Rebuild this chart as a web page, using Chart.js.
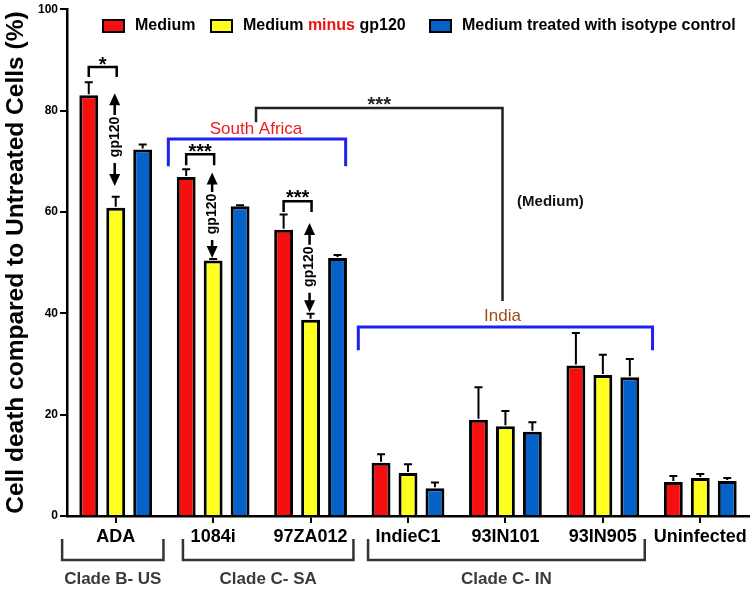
<!DOCTYPE html>
<html>
<head>
<meta charset="utf-8">
<script src="https://cdn.jsdelivr.net/npm/chart.js@4/dist/chart.umd.min.js"></script>
<style>
  html, body { margin: 0; padding: 0; background: #fff; }
  #wrap { width: 753px; height: 589px; position: relative; }
</style>
</head>
<body>
<div id="wrap"><canvas id="bar-chart"></canvas></div>
<script>
( function() {

  // --- data

  var categories = [ 'ADA', '1084i', '97ZA012', 'IndieC1', '93IN101', '93IN905', 'Uninfected' ];

  var medium        = [ 83.0, 66.9, 56.5, 10.5, 19.0, 29.7, 6.7 ];
  var mediumErr     = [ 2.6, 1.5, 3.0, 1.7, 6.4, 6.4, 1.2 ];

  var minusGp120    = [ 60.8, 50.4, 38.7, 8.5, 17.7, 27.8, 7.5 ];
  var minusGp120Err = [ 2.2, 0.3, 1.2, 1.7, 3.0, 4.0, 0.8 ];

  var isotype       = [ 72.3, 61.1, 50.9, 5.5, 16.6, 27.4, 6.9 ];
  var isotypeErr    = [ 1.0, 0.2, 0.6, 1.1, 1.9, 3.6, 0.6 ];

  var yTicks = [ 0, 20, 40, 60, 80, 100 ];

  var FONT = "'Liberation Sans', Arial, Helvetica, sans-serif";
  var RED = '#f5100f', YELLOW = '#ffff1f', BLUE = '#0562c8';

  // significance brackets (category index, y of bar, y of leg ends, stars)
  var sigBrackets = [
    { cat: 0, top: 88.6, leg: 86.6, stars: '*',   starY: 90.0 },
    { cat: 1, top: 71.4, leg: 69.2, stars: '***', starY: 72.8 },
    { cat: 2, top: 62.1, leg: 60.0, stars: '***', starY: 63.7 }
  ];

  // gp120 double arrows over the yellow bars
  var gpArrows = [
    { cat: 0, up: 83.4, down: 65.1, mid: 74.8 },
    { cat: 1, up: 67.8, down: 50.9, mid: 59.6 },
    { cat: 2, up: 57.8, down: 40.2, mid: 49.2 }
  ];

  var clades = [
    { label: 'Clade B- US', from: 0, fromOff: -0.55, to: 0, toOff: 0.49 },
    { label: 'Clade C- SA', from: 1, fromOff: -0.31, to: 2, toOff: 0.44 },
    { label: 'Clade C- IN', from: 3, fromOff: -0.41, to: 5, toOff: 0.43 }
  ];

  var errorBars = {
    id: 'errorBars',
    afterDatasetsDraw: function( chart ) {
      var ctx = chart.ctx;
      var ys = chart.scales.y;
      ctx.save();
      ctx.strokeStyle = '#000';
      ctx.lineWidth = 2;
      chart.data.datasets.forEach( function( ds, i ) {
        chart.getDatasetMeta( i ).data.forEach( function( bar, j ) {
          var top = ys.getPixelForValue( ds.data[ j ] );
          var cap = ys.getPixelForValue( ds.data[ j ] + ds.errors[ j ] );
          ctx.beginPath();
          ctx.moveTo( bar.x, top - 1 );
          ctx.lineTo( bar.x, cap );
          ctx.moveTo( bar.x - 4, cap );
          ctx.lineTo( bar.x + 4, cap );
          ctx.stroke();
        } );
      } );
      ctx.restore();
    }
  };

  var annotations = {
    id: 'annotations',
    afterDraw: function( chart ) {

      var ctx = chart.ctx;
      var xs = chart.scales.x, ys = chart.scales.y;
      var step = xs.width / categories.length;
      var area = chart.chartArea;

      var cx = function( i, f ) { return xs.getPixelForValue( i ) + ( f || 0 ) * step; };
      var vy = function( v ) { return ys.getPixelForValue( v ); };
      var barX = function( ds, i ) { return chart.getDatasetMeta( ds ).data[ i ].x; };

      var path = function( pts, color, width ) {
        ctx.strokeStyle = color;
        ctx.lineWidth = width;
        ctx.lineJoin = 'miter';
        ctx.beginPath();
        pts.forEach( function( p, k ) {
          if ( k === 0 ) ctx.moveTo( p[ 0 ], p[ 1 ] ); else ctx.lineTo( p[ 0 ], p[ 1 ] );
        } );
        ctx.stroke();
      };

      var text = function( str, x, y, font, color, align, baseline ) {
        ctx.font = font;
        ctx.fillStyle = color;
        ctx.textAlign = align || 'center';
        ctx.textBaseline = baseline || 'middle';
        ctx.fillText( str, x, y );
      };

      var arrowHead = function( x, tipY, dir ) {
        ctx.fillStyle = '#000';
        ctx.beginPath();
        ctx.moveTo( x, tipY );
        ctx.lineTo( x - 5.5, tipY - dir * 12 );
        ctx.lineTo( x + 5.5, tipY - dir * 12 );
        ctx.closePath();
        ctx.fill();
      };

      ctx.save();

      // --- legend
      var legend = [
        { box: 103, color: RED,    parts: [ [ 'Medium', '#000' ] ] },
        { box: 211, color: YELLOW, parts: [ [ 'Medium ', '#000' ], [ 'minus', '#ee1111' ], [ ' gp120', '#000' ] ] },
        { box: 430, color: BLUE,   parts: [ [ 'Medium treated with isotype control', '#000' ] ] }
      ];
      legend.forEach( function( item ) {
        ctx.fillStyle = item.color;
        ctx.fillRect( item.box, 20, 21, 12 );
        ctx.strokeStyle = '#000';
        ctx.lineWidth = 2;
        ctx.strokeRect( item.box, 20, 21, 12 );
        var x = item.box + 32;
        ctx.font = 'bold 16px ' + FONT;
        item.parts.forEach( function( p ) {
          text( p[ 0 ], x, 26, 'bold 16px ' + FONT, p[ 1 ], 'left', 'middle' );
          x += ctx.measureText( p[ 0 ] ).width;
        } );
      } );

      // --- significance brackets between Medium and minus gp120
      sigBrackets.forEach( function( b ) {
        var x0 = barX( 0, b.cat ), x1 = barX( 1, b.cat ) + 1;
        path( [ [ x0, vy( b.leg ) ], [ x0, vy( b.top ) ], [ x1, vy( b.top ) ], [ x1, vy( b.leg ) ] ], '#000', 2.5 );
        text( b.stars, ( x0 + x1 ) / 2, vy( b.starY ) + 11, 'bold 20px ' + FONT, '#000', 'center', 'alphabetic' );
      } );

      // --- gp120 arrows
      gpArrows.forEach( function( a ) {
        var x = barX( 1, a.cat ) - 1;
        var mid = vy( a.mid );
        ctx.strokeStyle = '#000';
        ctx.lineWidth = 2.5;
        ctx.beginPath();
        ctx.moveTo( x, vy( a.up ) + 6 );
        ctx.lineTo( x, mid - 22 );
        ctx.moveTo( x, mid + 26 );
        ctx.lineTo( x, vy( a.down ) - 6 );
        ctx.stroke();
        arrowHead( x, vy( a.up ), -1 );
        arrowHead( x, vy( a.down ), 1 );
        ctx.save();
        ctx.translate( x, mid );
        ctx.rotate( -Math.PI / 2 );
        text( 'gp120', 0, 0, 'bold 14px ' + FONT, '#000', 'center', 'middle' );
        ctx.restore();
      } );

      // --- South Africa bracket
      path( [ [ cx( 1, -0.46 ), vy( 69.0 ) ], [ cx( 1, -0.46 ), vy( 74.4 ) ],
              [ cx( 2, 0.36 ), vy( 74.4 ) ], [ cx( 2, 0.36 ), vy( 69.0 ) ] ], '#1d22ee', 3 );
      text( 'South Africa', cx( 1, 0.44 ), vy( 76.3 ), '17px ' + FONT, '#ee1c1c' );

      // --- India bracket
      path( [ [ cx( 3, -0.51 ), vy( 32.7 ) ], [ cx( 3, -0.51 ), vy( 37.3 ) ],
              [ cx( 5, 0.51 ), vy( 37.3 ) ], [ cx( 5, 0.51 ), vy( 32.7 ) ] ], '#1d22ee', 3 );
      text( 'India', cx( 4, -0.03 ), vy( 39.4 ), '17px ' + FONT, '#a04a1c' );

      // --- South Africa vs India (Medium)
      path( [ [ cx( 1, 0.44 ), vy( 77.7 ) ], [ cx( 1, 0.44 ), vy( 80.5 ) ],
              [ cx( 4, -0.03 ), vy( 80.5 ) ], [ cx( 4, -0.03 ), vy( 42.4 ) ] ], '#222', 2.5 );
      text( '***', ( cx( 1, 0.44 ) + cx( 4, -0.03 ) ) / 2, vy( 82.0 ) + 11, 'bold 20px ' + FONT, '#222', 'center', 'alphabetic' );
      text( '(Medium)', cx( 4, 0.12 ), vy( 61.9 ), 'bold 15px ' + FONT, '#111', 'left', 'middle' );

      // --- clade brackets under the axis
      clades.forEach( function( c ) {
        var x0 = cx( c.from, c.fromOff ), x1 = cx( c.to, c.toOff );
        var top = area.bottom + 23, bot = area.bottom + 44;
        path( [ [ x0, top ], [ x0, bot ], [ x1, bot ], [ x1, top ] ], '#333', 2.5 );
        text( c.label, ( x0 + x1 ) / 2, area.bottom + 63, 'bold 17px ' + FONT, '#3a3a3a' );
      } );

      ctx.restore();
    }
  };

  var createData = function() {
    return {
      labels: categories,
      datasets: [
        { label: 'Medium', data: medium, errors: mediumErr, backgroundColor: RED },
        { label: 'Medium minus gp120', data: minusGp120, errors: minusGp120Err, backgroundColor: YELLOW },
        { label: 'Medium treated with isotype control', data: isotype, errors: isotypeErr, backgroundColor: BLUE }
      ]
    };
  };

  var config = {
    type: 'bar',
    data: createData(),
    options: {
      responsive: true,
      maintainAspectRatio: false,
      animation: false,
      layout: { padding: { top: 9, right: 4, left: 0, bottom: 0 } },
      datasets: {
        bar: {
          borderColor: '#000',
          borderWidth: 3,
          categoryPercentage: 0.83,
          barPercentage: 0.70
        }
      },
      plugins: {
        legend: { display: false },
        tooltip: { enabled: false }
      },
      scales: {
        x: {
          offset: true,
          grid: { offset: false, drawOnChartArea: false, color: '#000', lineWidth: 2, tickLength: 7 },
          border: { color: '#000', width: 2.5 },
          ticks: { color: '#000', font: { family: FONT, size: 18, weight: 'bold' }, padding: 3, maxRotation: 0, autoSkip: false },
          afterFit: function( scale ) { scale.height = 73; }
        },
        y: {
          min: 0,
          max: 100,
          afterBuildTicks: function( scale ) {
            scale.ticks = yTicks.map( function( v ) { return { value: v }; } );
          },
          grid: { drawOnChartArea: false, color: '#000', lineWidth: 2, tickLength: 7 },
          border: { color: '#000', width: 2.5 },
          ticks: { color: '#000', font: { family: FONT, size: 12, weight: 'bold' }, padding: 2 },
          title: {
            display: true,
            text: 'Cell death compared to Untreated Cells (%)',
            color: '#000',
            font: { family: FONT, size: 24.5, weight: 'bold' },
            padding: { top: 1.5, bottom: 0 }
          },
          afterFit: function( scale ) { scale.width = 67; }
        }
      }
    },
    plugins: [ errorBars, annotations ]
  };

  new Chart( document.getElementById( 'bar-chart' ), config );

} )();
</script>
</body>
</html>
